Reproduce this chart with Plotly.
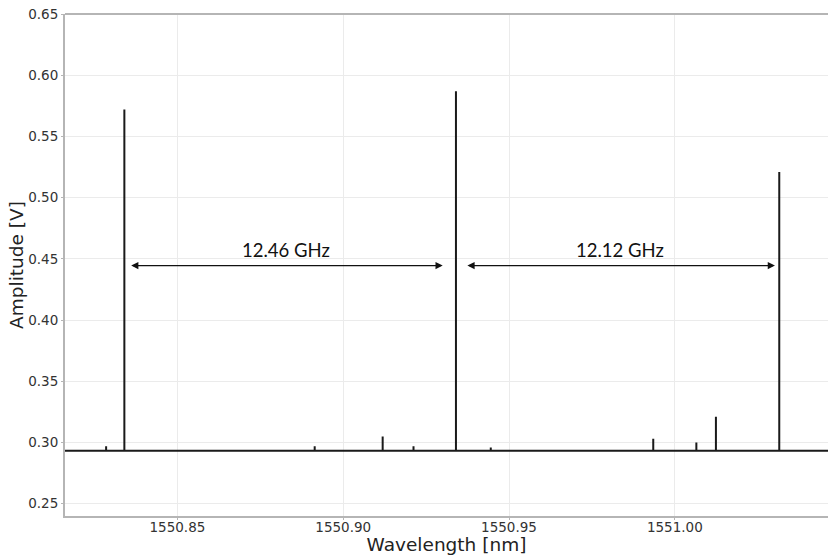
import plotly.graph_objects as go

# Data
x_range = [1550.8161, 1551.0462]
baseline = 0.2932
peak_wavelengths = [1550.8285, 1550.8340, 1550.8914, 1550.9119, 1550.9212, 1550.9340,
                    1550.9445, 1550.9830, 1550.9935, 1551.0065, 1551.0124, 1551.0315]
peak_amplitudes = [0.297, 0.572, 0.297, 0.305, 0.297, 0.587,
                   0.296, 0.294, 0.303, 0.300, 0.321, 0.521]
spacing_labels = ["12.46 GHz", "12.12 GHz"]
arrow_level = 0.4445
arrow_spans = [(1550.8356, 1550.9300), (1550.9370, 1551.0302)]
x_ticks = [1550.85, 1550.90, 1550.95, 1551.00]
y_ticks = [0.25, 0.30, 0.35, 0.40, 0.45, 0.50, 0.55, 0.60, 0.65]

# build spectrum trace from peaks
xs = [x_range[0]]
ys = [baseline]
for w, a in zip(peak_wavelengths, peak_amplitudes):
    xs += [w, w, w]
    ys += [baseline, a, baseline]
xs.append(x_range[1])
ys.append(baseline)

fig = go.Figure()
fig.add_trace(go.Scatter(x=xs, y=ys, mode="lines",
                         line=dict(color="#1a1a1a", width=2), hoverinfo="skip",
                         showlegend=False))

for (x0, x1), lab in zip(arrow_spans, spacing_labels):
    fig.add_annotation(x=x1, y=arrow_level, ax=x0, ay=arrow_level,
                       xref="x", yref="y", axref="x", ayref="y",
                       text="", showarrow=True, arrowhead=2, startarrowhead=2,
                       arrowside="end+start", arrowsize=1.2, startarrowsize=1.2,
                       arrowwidth=1.2, arrowcolor="#111")
    fig.add_annotation(x=(x0 + x1) / 2, y=arrow_level, xref="x", yref="y",
                       text=lab, showarrow=False, yshift=16,
                       font=dict(family="Lato, Open Sans, sans-serif", size=18.5, color="#111"))

axis_common = dict(showgrid=True, gridcolor="#ebebeb", gridwidth=1,
                   showline=True, linecolor="#b5b5b5", linewidth=2, mirror=False,
                   ticks="outside", ticklen=2, tickcolor="#b5b5b5",
                   tickfont=dict(family="DejaVu Sans, sans-serif", size=13.5, color="#333"),
                   zeroline=False)

fig.update_layout(
    width=828, height=555,
    margin=dict(l=65, r=0, t=14, b=39),
    paper_bgcolor="white", plot_bgcolor="white",
    xaxis=dict(range=x_range, tickvals=x_ticks,
               ticktext=[f"{v:.2f}" for v in x_ticks],
               ticklabelstandoff=-4,
               title=dict(text="Wavelength [nm]", standoff=0,
                          font=dict(family="DejaVu Sans, sans-serif", size=18.5, color="#222")),
               **axis_common),
    yaxis=dict(range=[0.24, 0.65], tickvals=y_ticks,
               ticktext=[f"{v:.2f}" for v in y_ticks],
               title=dict(text="Amplitude [V]", standoff=0,
                          font=dict(family="DejaVu Sans, sans-serif", size=18.5, color="#222")),
               **axis_common),
    shapes=[dict(type="line", xref="paper", yref="paper", x0=0, x1=1, y0=1, y1=1,
                 line=dict(color="#b5b5b5", width=2))],
)

fig.write_html("out.html", config={"displayModeBar": False})
